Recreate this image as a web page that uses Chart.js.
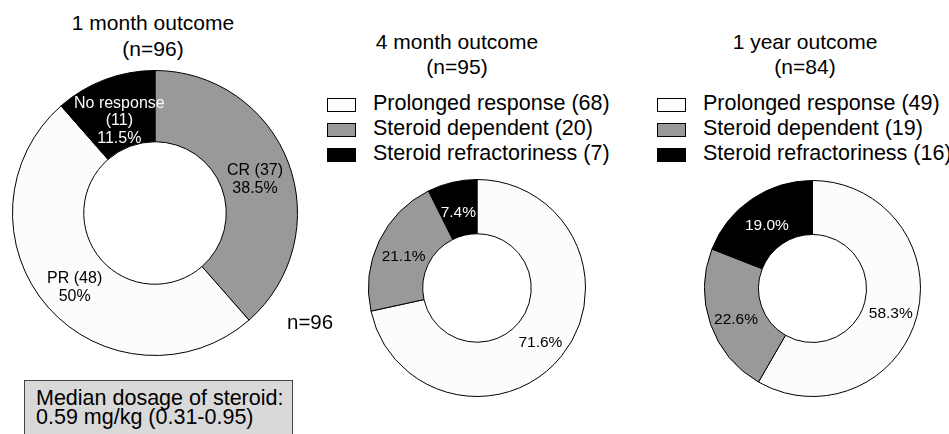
<!DOCTYPE html>
<html>
<head>
<meta charset="utf-8">
<title>Steroid response outcomes</title>
<script src="https://cdn.jsdelivr.net/npm/chart.js@4/dist/chart.umd.min.js"></script>
<style>
  body {
    margin: 0;
    width: 949px;
    height: 434px;
    overflow: hidden;
    position: relative;
    background: #fff;
    color: #000;
    font-family: "Liberation Sans", Arial, sans-serif;
  }
  canvas { position: absolute; }
  .title {
    position: absolute;
    width: 300px;
    text-align: center;
    font-size: 21px;
    line-height: 25px;
  }
  .legend {
    position: absolute;
    top: 91px;
    font-size: 21.5px;
    line-height: 25px;
    white-space: nowrap;
  }
  .legend .row { position: relative; height: 25px; padding-left: 46px; }
  .legend .box {
    position: absolute;
    left: 0;
    top: 7px;
    width: 27px;
    height: 12px;
    border: 1px solid #000;
  }
  .note {
    position: absolute;
    left: 287px;
    top: 309px;
    font-size: 20.5px;
    line-height: 25px;
  }
  .dose {
    position: absolute;
    left: 24px;
    top: 380px;
    width: 256px;
    height: 60px;
    padding: 8px 0 0 11px;
    background: #d9d9d9;
    border: 1px solid #444;
    font-size: 21.5px;
    line-height: 18.5px;
    white-space: nowrap;
  }
</style>
</head>
<body>

<div class="title" id="t1" style="left:3px; top:10px; line-height:26px;"></div>
<div class="title" id="t2" style="left:307px; top:29px;"></div>
<div class="title" id="t3" style="left:655px; top:29px;"></div>

<canvas id="c1" width="286" height="286" style="left:12px; top:70px;"></canvas>

<div class="legend" id="lg2" style="left:327px;"></div>
<canvas id="c2" width="218" height="218" style="left:368px; top:179px;"></canvas>

<div class="legend" id="lg3" style="left:657px;"></div>
<canvas id="c3" width="217" height="217" style="left:704px; top:180px;"></canvas>

<div class="note">n=96</div>
<div class="dose">Median dosage of steroid:<br>0.59 mg/kg (0.31-0.95)</div>

<script>
// 1 month outcome
const month1Labels = ['CR', 'PR', 'No response'];
const month1Counts = [37, 48, 11];
const month1Pct = ['38.5%', '50%', '11.5%'];

// 4 month and 1 year outcome share the same categories
const outcomeLabels = ['Prolonged response', 'Steroid dependent', 'Steroid refractoriness'];
const month4Counts = [68, 20, 7];
const month4Pct = ['71.6%', '21.1%', '7.4%'];
const year1Counts = [49, 19, 16];
const year1Pct = ['58.3%', '22.6%', '19.0%'];

const WHITE = '#fcfcfc';
const GREY = '#999999';
const BLACK = '#000000';
const FONT = '"Liberation Sans", Arial, sans-serif';

const sum = arr => arr.reduce((a, b) => a + b, 0);

// texto dentro de cada fatia, centrado no ponto médio do arco
const sliceLabels = {
  id: 'sliceLabels',
  afterDatasetsDraw(chart, args, opts) {
    const ctx = chart.ctx;
    const meta = chart.getDatasetMeta(0);
    ctx.save();
    ctx.font = opts.size + 'px ' + FONT;
    ctx.textAlign = 'center';
    ctx.textBaseline = 'middle';
    meta.data.forEach((arc, i) => {
      const lines = opts.text[i];
      const p = arc.getCenterPoint();
      const shift = opts.shift ? opts.shift[i] : [0, 0];
      const y0 = p.y + 4 + shift[1] - (lines.length - 1) * opts.lineHeight / 2;
      ctx.fillStyle = opts.colors[i];
      lines.forEach((t, k) => ctx.fillText(t, p.x + shift[0], y0 + k * opts.lineHeight));
    });
    ctx.restore();
  }
};

function makeDoughnut(id, counts, colors, text, textColors, size, shift) {
  return new Chart(document.getElementById(id), {
    type: 'doughnut',
    data: {
      labels: text.map(t => t[0]),
      datasets: [{
        data: counts,
        backgroundColor: colors,
        borderColor: '#000',
        borderWidth: 1
      }]
    },
    options: {
      responsive: false,
      animation: false,
      cutout: '50%',
      layout: { padding: 0 },
      plugins: {
        legend: { display: false },
        tooltip: { enabled: false },
        sliceLabels: { text: text, colors: textColors, size: size, lineHeight: 17.5, shift: shift }
      }
    },
    plugins: [sliceLabels]
  });
}

function setTitle(id, name, counts) {
  document.getElementById(id).innerHTML = name + '<br>(n=' + sum(counts) + ')';
}

function buildLegend(id, labels, counts, colors) {
  const el = document.getElementById(id);
  labels.forEach((lab, i) => {
    const row = document.createElement('div');
    row.className = 'row';
    row.innerHTML = '<span class="box" style="background:' + colors[i] + '"></span>' +
      lab + ' (' + counts[i] + ')';
    el.appendChild(row);
  });
}

// Gráfico 1
const month1Text = month1Labels.map((lab, i) =>
  i === 2 ? [lab, '(' + month1Counts[i] + ')', month1Pct[i]]
          : [lab + ' (' + month1Counts[i] + ')', month1Pct[i]]);
setTitle('t1', '1 month outcome', month1Counts);
makeDoughnut('c1', month1Counts, [GREY, WHITE, BLACK], month1Text, [BLACK, BLACK, WHITE], 16,
  [[0, 0], [0, 0], [2, 4]]);

// Gráfico 2 e 3
const outcomeColors = [WHITE, GREY, BLACK];
setTitle('t2', '4 month outcome', month4Counts);
buildLegend('lg2', outcomeLabels, month4Counts, outcomeColors);
makeDoughnut('c2', month4Counts, outcomeColors, month4Pct.map(p => [p]), [BLACK, BLACK, WHITE], 15.5);

setTitle('t3', '1 year outcome', year1Counts);
buildLegend('lg3', outcomeLabels, year1Counts, outcomeColors);
makeDoughnut('c3', year1Counts, outcomeColors, year1Pct.map(p => [p]), [BLACK, BLACK, WHITE], 15.5);
</script>
</body>
</html>
